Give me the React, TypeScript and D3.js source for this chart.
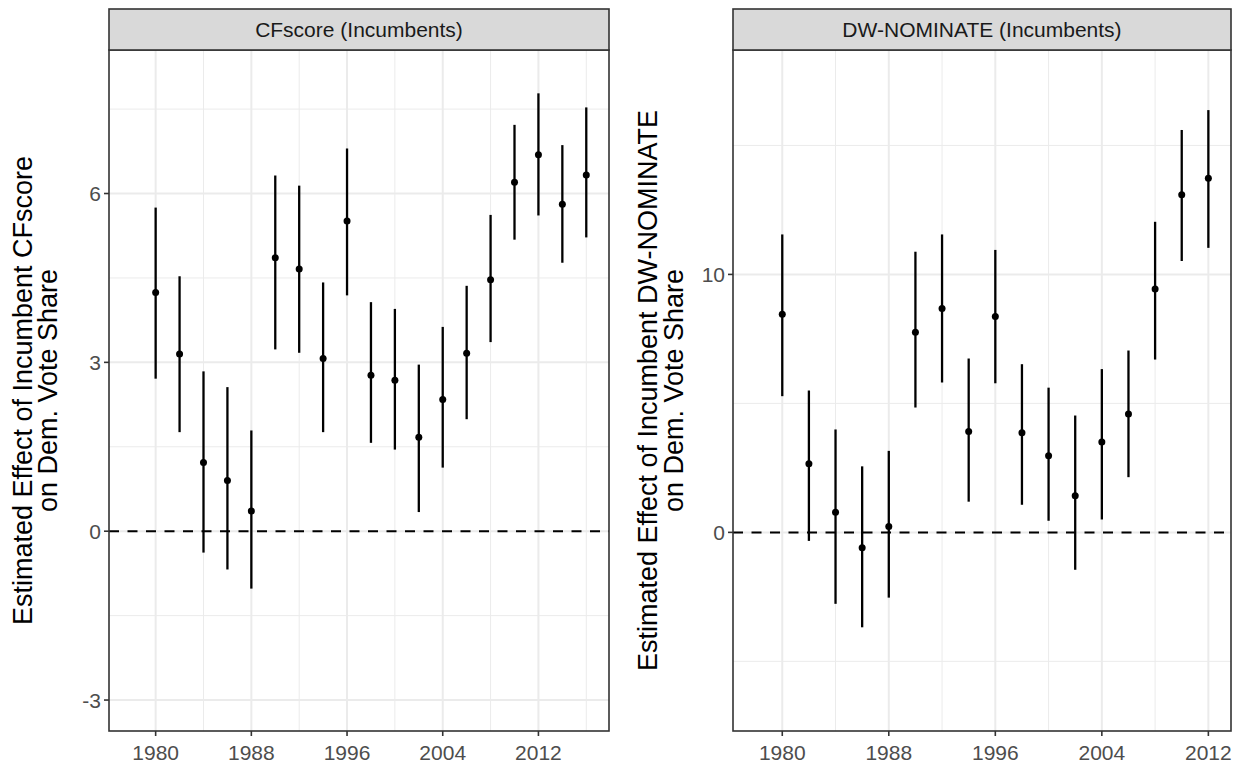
import React from "react";
import * as d3 from "d3";

// CFscore panel (incumbents)
const cfYears = [1980, 1982, 1984, 1986, 1988, 1990, 1992, 1994, 1996, 1998, 2000, 2002, 2004, 2006, 2008, 2010, 2012, 2014, 2016];
const cfEst = [4.24, 3.15, 1.22, 0.9, 0.36, 4.86, 4.66, 3.07, 5.51, 2.77, 2.68, 1.67, 2.34, 3.16, 4.47, 6.2, 6.69, 5.81, 6.33];
const cfLow = [2.71, 1.76, -0.38, -0.68, -1.02, 3.23, 3.17, 1.76, 4.19, 1.57, 1.45, 0.34, 1.13, 1.99, 3.36, 5.18, 5.61, 4.77, 5.22];
const cfHigh = [5.75, 4.53, 2.84, 2.56, 1.79, 6.32, 6.14, 4.42, 6.8, 4.07, 3.95, 2.96, 3.63, 4.36, 5.62, 7.22, 7.78, 6.86, 7.53];

// DW-NOMINATE panel (incumbents)
const dwYears = [1980, 1982, 1984, 1986, 1988, 1990, 1992, 1994, 1996, 1998, 2000, 2002, 2004, 2006, 2008, 2010, 2012];
const dwEst = [8.46, 2.66, 0.78, -0.6, 0.23, 7.76, 8.68, 3.91, 8.37, 3.86, 2.97, 1.42, 3.5, 4.59, 9.43, 13.09, 13.73];
const dwLow = [5.28, -0.33, -2.77, -3.68, -2.53, 4.84, 5.81, 1.19, 5.78, 1.07, 0.45, -1.45, 0.5, 2.14, 6.7, 10.52, 11.03];
const dwHigh = [11.55, 5.5, 3.99, 2.56, 3.16, 10.88, 11.55, 6.74, 10.95, 6.52, 5.61, 4.53, 6.33, 7.05, 12.04, 15.6, 16.37];

const xBreaks = [1980, 1988, 1996, 2004, 2012];
const cfYBreaks = [-3, 0, 3, 6];
const dwYBreaks = [0, 10];

const FONT = "'Liberation Sans', Arial, sans-serif";

interface PanelProps {
  left: number;
  right: number;
  title: string;
  yTitle: string[];
  titleX: number[];
  years: number[];
  est: number[];
  low: number[];
  high: number[];
  xDomain: [number, number];
  yDomain: [number, number];
  yBreaks: number[];
}

const TOP = 50;
const BOTTOM = 731;
const STRIP_TOP = 9;

const Panel = (p: PanelProps) => {
  const x = d3.scaleLinear().domain(p.xDomain).range([p.left, p.right]);
  const y = d3.scaleLinear().domain(p.yDomain).range([BOTTOM, TOP]);

  // minor breaks sit halfway between the major ones
  const xStep = xBreaks[1] - xBreaks[0];
  const xMinor = d3.range(xBreaks[0] - xStep / 2, p.xDomain[1], xStep).filter((v) => v > p.xDomain[0]);
  const yStep = p.yBreaks[1] - p.yBreaks[0];
  const yMinor = d3.range(p.yBreaks[0] - yStep / 2, p.yDomain[1], yStep).filter((v) => v > p.yDomain[0]);

  const midY = (TOP + BOTTOM) / 2;

  return (
    <g>
      <rect x={p.left} y={TOP} width={p.right - p.left} height={BOTTOM - TOP} fill="white" />
      {/* minor grid */}
      {xMinor.map((v) => (
        <line key={"xm" + v} x1={x(v)} x2={x(v)} y1={TOP} y2={BOTTOM} stroke="#EBEBEB" strokeWidth={1} />
      ))}
      {yMinor.map((v) => (
        <line key={"ym" + v} x1={p.left} x2={p.right} y1={y(v)} y2={y(v)} stroke="#EBEBEB" strokeWidth={1} />
      ))}
      {/* major grid */}
      {xBreaks.map((v) => (
        <line key={"xM" + v} x1={x(v)} x2={x(v)} y1={TOP} y2={BOTTOM} stroke="#EBEBEB" strokeWidth={2} />
      ))}
      {p.yBreaks.map((v) => (
        <line key={"yM" + v} x1={p.left} x2={p.right} y1={y(v)} y2={y(v)} stroke="#EBEBEB" strokeWidth={2} />
      ))}

      {/* zero reference */}
      <line x1={p.left} x2={p.right} y1={y(0)} y2={y(0)} stroke="black" strokeWidth={2} strokeDasharray="10,8.5" />

      {/* error bars and points */}
      {p.years.map((yr, i) => (
        <g key={yr}>
          <line x1={x(yr)} x2={x(yr)} y1={y(p.low[i])} y2={y(p.high[i])} stroke="black" strokeWidth={2.3} />
          <circle cx={x(yr)} cy={y(p.est[i])} r={3.5} fill="black" />
        </g>
      ))}

      {/* panel border */}
      <rect x={p.left} y={TOP} width={p.right - p.left} height={BOTTOM - TOP} fill="none" stroke="#333333" strokeWidth={1.6} />

      {/* strip */}
      <rect x={p.left} y={STRIP_TOP} width={p.right - p.left} height={TOP - STRIP_TOP} fill="#D9D9D9" stroke="#333333" strokeWidth={1.6} />
      <text x={(p.left + p.right) / 2} y={(STRIP_TOP + TOP) / 2 + 7.5} textAnchor="middle" fontSize={21} fill="#1A1A1A" fontFamily={FONT}>
        {p.title}
      </text>

      {/* y axis */}
      {p.yBreaks.map((v) => (
        <g key={"yt" + v}>
          <line x1={p.left - 5} x2={p.left} y1={y(v)} y2={y(v)} stroke="#333333" strokeWidth={1.6} />
          <text x={p.left - 8} y={y(v) + 7.5} textAnchor="end" fontSize={21} fill="#4D4D4D" fontFamily={FONT}>
            {v}
          </text>
        </g>
      ))}

      {/* x axis */}
      {xBreaks.map((v) => (
        <g key={"xt" + v}>
          <line x1={x(v)} x2={x(v)} y1={BOTTOM} y2={BOTTOM + 5} stroke="#333333" strokeWidth={1.6} />
          <text x={x(v)} y={BOTTOM + 29} textAnchor="middle" fontSize={21} fill="#4D4D4D" fontFamily={FONT}>
            {v}
          </text>
        </g>
      ))}

      {/* y title */}
      {p.yTitle.map((t, i) => (
        <text
          key={t}
          transform={`translate(${p.titleX[i]},${midY}) rotate(-90)`}
          textAnchor="middle"
          fontSize={27}
          fill="black"
          fontFamily={FONT}
        >
          {t}
        </text>
      ))}
    </g>
  );
};

export default function App() {
  return (
    <svg width={1247} height={767} style={{ position: "absolute", left: 0, top: 0 }}>
      <rect width={1247} height={767} fill="white" />
      <Panel
        left={109}
        right={609}
        title="CFscore (Incumbents)"
        yTitle={["Estimated Effect of Incumbent CFscore", "on Dem. Vote Share"]}
        titleX={[32, 57]}
        years={cfYears}
        est={cfEst}
        low={cfLow}
        high={cfHigh}
        xDomain={[1976.1, 2017.9]}
        yDomain={[-3.55, 8.55]}
        yBreaks={cfYBreaks}
      />
      <Panel
        left={733}
        right={1231}
        title="DW-NOMINATE (Incumbents)"
        yTitle={["Estimated Effect of Incumbent DW-NOMINATE", "on Dem. Vote Share"]}
        titleX={[657, 683]}
        years={dwYears}
        est={dwEst}
        low={dwLow}
        high={dwHigh}
        xDomain={[1976.3, 2013.7]}
        yDomain={[-7.7, 18.7]}
        yBreaks={dwYBreaks}
      />
    </svg>
  );
}
